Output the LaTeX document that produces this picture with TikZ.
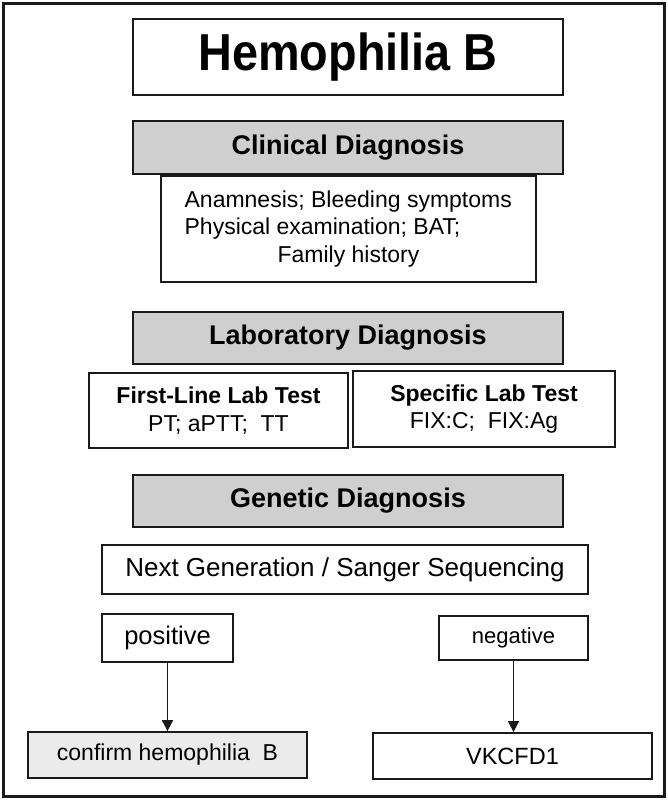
\documentclass[tikz,border=0pt]{standalone}
\usepackage{fontspec}
\setmainfont{Liberation Sans}
\newfontfamily\titlefont[FakeStretch=0.9]{Liberation Sans}
\usetikzlibrary{arrows.meta}
\definecolor{headgrey}{HTML}{CFCFCF}
\definecolor{lightgrey}{HTML}{EBEBEB}
\definecolor{edge}{HTML}{1A1A1A}
\tikzset{
  box/.style={draw=edge, line width=1.8pt, fill=white, inner sep=0pt, align=center,
    font=\fontsize{23}{27.5}\selectfont},
  titlebox/.style={box, font=\titlefont\fontsize{52}{54}\selectfont\bfseries},
  headbox/.style={box, fill=headgrey, font=\fontsize{27}{30}\selectfont\bfseries},
  arr/.style={draw=edge, line width=1.7pt, -{Triangle[length=11pt,width=11pt]}},
}
\begin{document}
\begin{tikzpicture}[x=1pt,y=-1pt]
\useasboundingbox (0,0) rectangle (668,800);
\draw[edge, line width=3pt] (3.5,3.5) rectangle (664.5,796.5);
\node[titlebox, minimum width=430, minimum height=76] (title) at (348,57) {Hemophilia B};
\node[headbox, minimum width=430, minimum height=53] (clin) at (348,147.5) {Clinical Diagnosis};
\node[box, minimum width=375, minimum height=106] (info) at (348.5,229) {%
  \makebox[14.25em][l]{Anamnesis; Bleeding symptoms}\\
  \makebox[14.25em][l]{Physical examination; BAT;}\\
  Family history};
\node[headbox, minimum width=430, minimum height=52] (lab) at (348,338) {Laboratory Diagnosis};
\node[box, minimum width=259, minimum height=75] (first) at (218.5,410.5) {\textbf{First-Line Lab Test}\\PT; aPTT;\ \ TT};
\node[box, minimum width=262, minimum height=76] (spec) at (484,409) {\textbf{Specific Lab Test}\\FIX:C;\ \ FIX:Ag};
\node[headbox, minimum width=430, minimum height=52] (gen) at (348,501) {Genetic Diagnosis};
\node[box, minimum width=486, minimum height=49, font=\fontsize{26}{28}\selectfont] (ngs) at (345,569.5) {Next Generation / Sanger Sequencing};
\node[box, minimum width=131, minimum height=48, font=\fontsize{25.5}{28}\selectfont] (pos) at (167.5,638) {positive};
\node[box, minimum width=149, minimum height=44, font=\fontsize{22}{26}\selectfont] (neg) at (513.5,638) {negative};
\node[box, fill=lightgrey, minimum width=279, minimum height=46] (conf) at (167.5,755) {confirm hemophilia\ \ B};
\node[box, minimum width=279, minimum height=46, font=\fontsize{23.5}{28}\selectfont] (vk) at (512.5,756) {VKCFD1};
\draw[arr] (pos.south) -- (conf.north);
\draw[arr] (neg.south) -- (neg.south |- vk.north);
\end{tikzpicture}
\end{document}
